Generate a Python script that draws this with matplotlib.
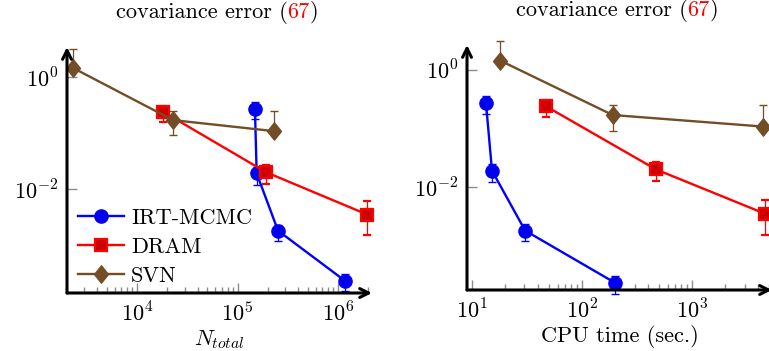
import matplotlib
matplotlib.use("Agg")
import matplotlib.pyplot as plt
import numpy as np
from matplotlib.path import Path
from matplotlib.ticker import NullLocator, LogLocator, NullFormatter
from matplotlib.offsetbox import TextArea, HPacker, AnnotationBbox

plt.rcParams['font.family'] = ['cmr10', 'DejaVu Serif']
plt.rcParams['mathtext.fontset'] = 'cm'
plt.rcParams['axes.formatter.use_mathtext'] = True

# ---------------- data ----------------
series = ["IRT-MCMC", "DRAM", "SVN"]

# N_total (left panel)
irt_n = [1.49e5, 1.55e5, 2.53e5, 1.17e6]
dram_n = [1.81e4, 1.92e5, 1.95e6]
svn_n = [2.31e3, 2.28e4, 2.31e5]

# CPU time in seconds (right panel)
irt_t = [13.4, 15.2, 30.4, 200.0]
dram_t = [47.0, 470.0, 4600.0]
svn_t = [18.0, 190.0, 4400.0]

# covariance error (shared by both panels) with lower / upper error bounds
irt_err = [0.27, 0.019, 1.8e-3, 2.3e-4]
irt_lo = [0.175, 0.012, 1.2e-3, 1.5e-4]
irt_hi = [0.36, 0.025, 2.3e-3, 3.0e-4]

dram_err = [0.24, 0.020, 3.5e-3]
dram_lo = [0.16, 0.0125, 1.5e-3]
dram_hi = [0.305, 0.027, 6.1e-3]

svn_err = [1.45, 0.17, 0.108]
svn_lo = [1.45, 0.092, 0.108]
svn_hi = [3.1, 0.25, 0.25]

left_xticks = [1e4, 1e5, 1e6]
left_xticklabels = [r'$10^{4}$', r'$10^{5}$', r'$10^{6}$']
right_xticks = [1e1, 1e2, 1e3]
right_xticklabels = [r'$10^{1}$', r'$10^{2}$', r'$10^{3}$']
yticks = [1e0, 1e-2]
yticklabels = [r'$10^{0}$', r'$10^{-2}$']

# ---------------- style ----------------
W, H = 769, 351
fig = plt.figure(figsize=(W / 100, H / 100), dpi=100)

brown = '#734d26'
diamond = Path([(0, 1), (0.8, 0), (0, -1), (-0.8, 0), (0, 1)],
               [Path.MOVETO, Path.LINETO, Path.LINETO, Path.LINETO, Path.CLOSEPOLY])

styles = {
    "IRT-MCMC": dict(color='#0000ff', marker='o', ms=9.5, mfc='#0000ee', mec='#0000ff', mew=1.0),
    "DRAM": dict(color='#ff0000', marker='s', ms=9.0, mfc='#cc0000', mec='#ff0000', mew=1.6),
    "SVN": dict(color=brown, marker=diamond, ms=12.5, mfc=brown, mec=brown, mew=1.0),
}

FS = 16


def px_axes(x0, x1, ytop, ybot):
    return fig.add_axes([x0 / W, 1 - ybot / H, (x1 - x0) / W, (ybot - ytop) / H])


def draw_panel(ax, xs_list, xlim, ylim, xticks, xticklabels, xlabel, labelpad):
    ax.set_xscale('log')
    ax.set_yscale('log')
    data = [(series[0], xs_list[0], irt_err, irt_lo, irt_hi),
            (series[1], xs_list[1], dram_err, dram_lo, dram_hi),
            (series[2], xs_list[2], svn_err, svn_lo, svn_hi)]
    handles = []
    for name, xs, ys, lo, hi in data:
        st = styles[name]
        ys_a = np.array(ys)
        yerr = [ys_a - np.array(lo), np.array(hi) - ys_a]
        c = ax.errorbar(xs, ys, yerr=yerr, color=st['color'], lw=1.7,
                        marker=st['marker'], ms=st['ms'], mfc=st['mfc'],
                        mec=st['mec'], mew=st['mew'], ecolor=st['color'],
                        elinewidth=0.9, capsize=3.2, capthick=0.9,
                        label=name, clip_on=False)
        for art in c.lines[1]:
            art.set_clip_on(False)
        for art in c.lines[2]:
            art.set_clip_on(False)
        handles.append(c.lines[0])
    ax.set_xlim(*xlim)
    ax.set_ylim(*ylim)
    ax.set_xticks(xticks, xticklabels)
    ax.xaxis.set_minor_locator(LogLocator(base=10, subs=np.arange(2, 10), numticks=50))
    ax.xaxis.set_minor_formatter(NullFormatter())
    ax.set_yticks(yticks, yticklabels)
    ax.yaxis.set_minor_locator(NullLocator())
    ax.tick_params(which='major', direction='in', length=7, width=1.0,
                   color='#8c8c8c', labelsize=FS)
    ax.tick_params(which='minor', direction='in', length=4, width=1.0,
                   color='#8c8c8c')
    ax.tick_params(axis='x', which='major', pad=6)
    ax.tick_params(axis='y', which='major', pad=6)
    for s in ax.spines.values():
        s.set_visible(False)
    ax.patch.set_alpha(0)
    arrow = dict(arrowstyle='->', lw=2.2, color='black', mutation_scale=16,
                 shrinkA=0, shrinkB=0)
    ax.annotate('', xy=(0, 1.0), xytext=(0, 0), xycoords='axes fraction',
                textcoords='axes fraction', arrowprops=arrow, annotation_clip=False)
    ax.annotate('', xy=(1.0, 0), xytext=(0, 0), xycoords='axes fraction',
                textcoords='axes fraction', arrowprops=arrow, annotation_clip=False)
    ax.set_xlabel(xlabel, fontsize=FS, labelpad=labelpad)
    return handles


def title_at(xc, yc):
    tp = dict(fontsize=FS, color='black')
    parts = [TextArea("covariance error (", textprops=tp),
             TextArea("67", textprops=dict(fontsize=FS, color='#ff0000')),
             TextArea(")", textprops=tp)]
    box = HPacker(children=parts, align='baseline', pad=0, sep=0)
    ab = AnnotationBbox(box, (xc / W, 1 - yc / H), xycoords='figure fraction',
                        frameon=False, box_alignment=(0.5, 0.5), pad=0)
    fig.add_artist(ab)


# left panel
ax1 = px_axes(67, 372, 47, 293)
h = draw_panel(ax1, [irt_n, dram_n, svn_n],
               (10 ** 3.303, 10 ** 6.338), (10 ** -3.857, 10 ** 0.536),
               left_xticks, left_xticklabels, r'$N_{total}$', 2)
leg = ax1.legend(handles=h, labels=series, loc='lower left',
                 bbox_to_anchor=(0.035, 0.03), frameon=False, fontsize=FS,
                 handlelength=2.1, handletextpad=0.3, labelspacing=0.42,
                 borderpad=0, borderaxespad=0, numpoints=1)

# right panel
ax2 = px_axes(467, 772, 45, 290)
draw_panel(ax2, [irt_t, dram_t, svn_t],
           (10 ** 0.9545, 10 ** 3.727), (10 ** -3.76, 10 ** 0.427),
           right_xticks, right_xticklabels, 'CPU time (sec.)', 2)

title_at(217, 12)
title_at(617, 10.5)

fig.savefig('out.png', dpi=100)
